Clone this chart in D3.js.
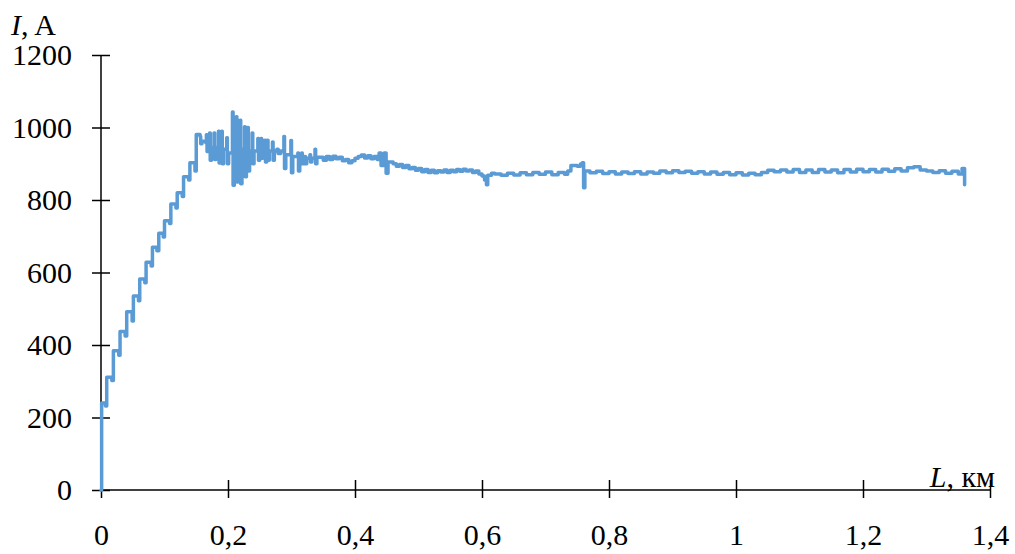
<!DOCTYPE html>
<html>
<head>
<meta charset="utf-8">
<script src="https://cdn.jsdelivr.net/npm/d3@7"></script>
<style>
  body { margin: 0; background: #fff; }
  svg { display: block; }
  text { font-family: "Liberation Serif", "Times New Roman", serif; fill: #000; }
</style>
</head>
<body>
<div id="chart"></div>
<script>
// --- data: L, km  ->  I, A ---
// staircase at the start of the line
var rampL = [0, 0.001, 0.007, 0.009, 0.017, 0.0195, 0.028, 0.030, 0.038, 0.0405,
  0.049, 0.051, 0.059, 0.061, 0.069, 0.071, 0.079, 0.081, 0.088, 0.091,
  0.098, 0.100, 0.108, 0.110, 0.118, 0.120, 0.128, 0.130, 0.138, 0.140, 0.148];
var rampI = [0, 240, 232, 311, 302, 384, 372, 437, 425, 492,
  466, 535, 522, 582, 572, 628, 618, 670, 660, 708,
  698, 743, 735, 789, 778, 820, 810, 864, 855, 903, 880];

// oscillations after the peak
var swingL = [0.150, 0.156, 0.157, 0.159, 0.165, 0.166, 0.167, 0.169, 0.171, 0.172,
  0.174, 0.178, 0.179, 0.181, 0.185, 0.186, 0.188, 0.190, 0.191, 0.193,
  0.198, 0.199, 0.201, 0.207, 0.208, 0.210, 0.213, 0.214, 0.216, 0.219,
  0.220, 0.222, 0.226, 0.227, 0.229, 0.231, 0.232, 0.234, 0.238, 0.239,
  0.241, 0.247, 0.248, 0.250, 0.252, 0.253, 0.255, 0.258, 0.259, 0.261,
  0.262, 0.263, 0.265, 0.270, 0.271, 0.273, 0.277, 0.279, 0.283, 0.288,
  0.289, 0.291, 0.299, 0.300, 0.302, 0.310, 0.311, 0.313, 0.316, 0.317,
  0.319, 0.321, 0.322, 0.324, 0.329, 0.330, 0.332, 0.337, 0.338, 0.340];
var swingI = [981, 975, 955, 962, 958, 980, 934, 950, 985, 910,
  945, 985, 912, 945, 990, 902, 940, 990, 900, 940,
  972, 900, 930, 1043, 841, 940, 1030, 850, 940, 1020,
  845, 940, 1002, 864, 935, 1000, 880, 935, 985, 900,
  935, 970, 910, 940, 970, 915, 940, 965, 905, 935,
  965, 910, 935, 960, 910, 935, 940, 928, 935, 975,
  887, 925, 964, 875, 920, 930, 880, 920, 930, 900,
  915, 920, 900, 915, 925, 905, 915, 940, 900, 918];

// settled part with small ripple
var plateauL = [0.345, 0.350, 0.355, 0.360, 0.365, 0.370, 0.375, 0.380, 0.385, 0.390,
  0.395, 0.400, 0.405, 0.410, 0.415, 0.420, 0.425, 0.430, 0.435, 0.438,
  0.441, 0.446, 0.449, 0.452, 0.460, 0.465, 0.470, 0.475, 0.480, 0.485,
  0.490, 0.495, 0.500, 0.505, 0.510, 0.515, 0.520, 0.525, 0.530, 0.535,
  0.540, 0.545, 0.550, 0.555, 0.560, 0.565, 0.570, 0.575, 0.580, 0.585,
  0.590, 0.595, 0.600, 0.604, 0.607, 0.609, 0.615, 0.620, 0.630, 0.640,
  0.650, 0.660, 0.670, 0.680, 0.690, 0.700, 0.710, 0.720, 0.730, 0.735,
  0.740, 0.750, 0.755, 0.758, 0.760, 0.762, 0.770, 0.780, 0.790, 0.800,
  0.810, 0.820, 0.830, 0.840, 0.850, 0.860, 0.870, 0.880, 0.890, 0.900,
  0.910, 0.920, 0.930, 0.940, 0.950, 0.960, 0.970, 0.980, 0.990, 1.000,
  1.010, 1.020, 1.030, 1.040, 1.050, 1.060, 1.070, 1.080, 1.090, 1.100,
  1.110, 1.120, 1.130, 1.140, 1.150, 1.160, 1.170, 1.180, 1.190, 1.200,
  1.210, 1.220, 1.230, 1.240, 1.250, 1.260, 1.270, 1.280, 1.290, 1.300,
  1.310, 1.320, 1.330, 1.340, 1.350, 1.356, 1.360];
var plateauI = [918, 910, 920, 912, 921, 914, 918, 908, 912, 903,
  908, 915, 920, 924, 916, 922, 914, 920, 912, 930,
  895, 930, 874, 905, 900, 893, 898, 890, 895, 886,
  890, 882, 887, 878, 884, 876, 882, 875, 881, 877,
  883, 876, 882, 878, 884, 879, 885, 880, 883, 876,
  880, 872, 866, 855, 842, 868, 874, 872, 868, 874,
  869, 875, 870, 876, 871, 877, 870, 876, 871, 880,
  895, 893, 899, 903, 834, 880, 875, 879, 873, 878,
  872, 877, 873, 878, 872, 877, 874, 880, 875, 881,
  876, 879, 874, 878, 872, 877, 871, 876, 870, 875,
  869, 874, 870, 876, 882, 878, 883, 877, 884, 876,
  883, 876, 884, 877, 883, 875, 884, 877, 885, 878,
  884, 877, 885, 879, 886, 880, 889, 892, 883, 880,
  876, 881, 874, 879, 872, 887, 842, 842];

var xTicks = [0, 0.2, 0.4, 0.6, 0.8, 1, 1.2, 1.4];
var yTicks = [0, 200, 400, 600, 800, 1000, 1200];

var width = 1015, height = 554;
var x0 = 101, x1 = 990, y0 = 490, y1 = 55;
var fontSize = 30;

var svg = d3.select("#chart").append("svg")
  .attr("width", width)
  .attr("height", height);

svg.append("rect").attr("width", width).attr("height", height).attr("fill", "#fff");

var x = d3.scaleLinear().domain([0, 1.4]).range([x0, x1]);
var y = d3.scaleLinear().domain([0, 1200]).range([y0, y1]);

var fmt = function(d) { return String(d).replace(".", ","); };

// y axis: ticks cross the line
var yAxis = svg.append("g")
  .attr("transform", "translate(" + x0 + ",0)")
  .call(d3.axisLeft(y).tickValues(yTicks).tickSize(9).tickPadding(20).tickFormat(function(d) { return d; }));
yAxis.select(".domain").attr("d", "M0," + y0 + "V" + y1).attr("stroke", "#000").attr("stroke-width", 1.5);
yAxis.selectAll(".tick line").attr("x1", 9).attr("x2", -9).attr("stroke", "#000").attr("stroke-width", 1.5);
yAxis.selectAll(".tick text").attr("font-size", fontSize).attr("dy", "0.33em")
  .style("font-family", "'Liberation Serif', 'Times New Roman', serif");

// x axis
var xAxis = svg.append("g")
  .attr("transform", "translate(0," + y0 + ")")
  .call(d3.axisBottom(x).tickValues(xTicks).tickSize(8).tickPadding(26).tickFormat(fmt));
xAxis.select(".domain").attr("d", "M" + x0 + ",0H" + x1).attr("stroke", "#000").attr("stroke-width", 1.5);
xAxis.selectAll(".tick line").attr("y1", -10).attr("y2", 8).attr("stroke", "#000").attr("stroke-width", 1.5);
xAxis.selectAll(".tick text").attr("font-size", fontSize).attr("dy", "0.71em")
  .style("font-family", "'Liberation Serif', 'Times New Roman', serif");

// line
var pts = [];
[[rampL, rampI], [swingL, swingI], [plateauL, plateauI]].forEach(function(s) {
  s[0].forEach(function(l, i) { pts.push([l, s[1][i]]); });
});

var line = d3.line()
  .x(function(d) { return x(d[0]); })
  .y(function(d) { return y(d[1]); })
  .curve(d3.curveStepAfter);

svg.append("path")
  .datum(pts)
  .attr("d", line)
  .attr("fill", "none")
  .attr("stroke", "#5b9bd5")
  .attr("stroke-width", 3.5)
  .attr("stroke-linejoin", "round")
  .attr("stroke-linecap", "round");

// axis titles
var yt = svg.append("text").attr("x", 11).attr("y", 35).attr("font-size", fontSize);
yt.append("tspan").attr("font-style", "italic").text("I");
yt.append("tspan").text(", A");

var xt = svg.append("text").attr("x", 995).attr("y", 487).attr("font-size", fontSize).attr("text-anchor", "end");
xt.append("tspan").attr("font-style", "italic").text("L");
xt.append("tspan").text(", км");
</script>
</body>
</html>
